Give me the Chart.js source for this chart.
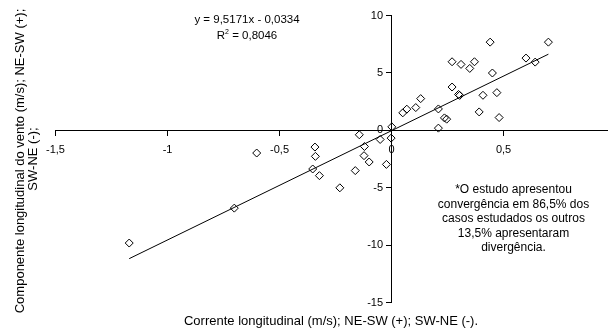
<!DOCTYPE html>
<html>
<head>
<meta charset="utf-8">
<script src="https://cdn.jsdelivr.net/npm/chart.js@4"></script>
<style>
  html, body { margin: 0; padding: 0; background: #fff; }
  #wrap { position: relative; width: 608px; height: 331px; }
</style>
</head>
<body>
<div id="wrap"><canvas id="corrChart"></canvas></div>
<script>
// current (x, m/s) vs wind component (y, m/s)
const currentX = [0.700, 0.440, 0.600, 0.641, 0.270, 0.310, 0.370, 0.349, 0.450, 0.270,
    0.299, 0.304, 0.408, 0.470, 0.391, 0.480, 0.209, 0.236, 0.246, 0.209,
    0.130, 0.108, 0.068, 0.050, 0.001, -0.002, -0.051, -0.144, -0.342, -0.121,
    -0.602, -0.340, -0.352, -0.322, -0.231, -0.162, -0.123, -0.100, -0.023, -0.702,
    -1.171];
const windY = [7.68, 7.68, 6.29, 5.94, 5.97, 5.74, 5.97, 5.39, 4.99, 3.77,
    3.12, 3.04, 3.05, 3.28, 1.60, 1.11, 1.86, 1.08, 0.97, 0.19,
    2.76, 1.98, 1.84, 1.52, 0.30, -0.68, -0.80, -0.39, -1.46, -1.41,
    -1.98, -2.27, -3.37, -3.95, -5.01, -3.51, -2.21, -2.76, -2.97, -6.78,
    -9.82];

// linear trend endpoints (y = 9,5171x - 0,0334)
const trendX = [-1.171, 0.700];
const trendY = [-11.18, 6.63];

const equationLines = ['y = 9,5171x - 0,0334', 'R', ' = 0,8046'];
const noteLines = ['*O estudo apresentou', 'convergência em 86,5% dos', 'casos estudados os outros', '13,5% apresentaram', 'divergência.'];
const xTitle = 'Corrente longitudinal (m/s); NE-SW (+); SW-NE (-).';
const yTitle = ['Componente longitudinal do vento (m/s); NE-SW (+);', 'SW-NE (-);'];

const FONT = "'Liberation Sans', Arial, sans-serif";

const fmt = v => String(Math.round(v * 10) / 10).replace('.', ',');

const textPlugin = {
    id: 'extraText',
    afterDraw(chart) {
        const ctx = chart.ctx;
        const ys = chart.scales.y;
        const xs = chart.scales.x;
        ctx.save();
        ctx.fillStyle = '#000';
        ctx.textBaseline = 'middle';

        // y tick labels, left of the axis
        ctx.font = '11px ' + FONT;
        ctx.textAlign = 'right';
        const axisX = xs.getPixelForValue(0);
        ys.ticks.forEach(t => ctx.fillText(fmt(t.value), axisX - 8.5, ys.getPixelForValue(t.value)));

        // regression equation
        ctx.textAlign = 'center';
        ctx.font = '11.5px ' + FONT;
        ctx.fillText(equationLines[0], 247, 19.5);
        const w1 = ctx.measureText(equationLines[1]).width;
        const w2 = ctx.measureText(equationLines[2]).width;
        ctx.font = '7px ' + FONT;
        const ws = ctx.measureText('2').width;
        const start = 247 - (w1 + ws + w2) / 2;
        ctx.textAlign = 'left';
        ctx.font = '11.5px ' + FONT;
        ctx.fillText(equationLines[1], start, 36);
        ctx.fillText(equationLines[2], start + w1 + ws, 36);
        ctx.font = '7px ' + FONT;
        ctx.fillText('2', start + w1, 32);

        // note
        ctx.font = '12px ' + FONT;
        ctx.textAlign = 'center';
        noteLines.forEach((t, i) => ctx.fillText(t, 513.5, 190 + i * 14.5));

        // axis titles
        ctx.font = '13px ' + FONT;
        ctx.fillText(xTitle, 331, 321.5);
        ctx.translate(20, 161);
        ctx.rotate(-Math.PI / 2);
        ctx.fillText(yTitle[0], 0, 0);
        ctx.fillText(yTitle[1], 2, 13);
        ctx.restore();
    }
};

function noPad(scale) {
    scale.paddingLeft = 0;
    scale.paddingRight = 0;
    scale.paddingTop = 0;
    scale.paddingBottom = 0;
}

new Chart(document.getElementById('corrChart'), {
    type: 'scatter',
    data: {
        datasets: [{
            label: 'dados',
            data: currentX.map((x, i) => ({x: x, y: windY[i]})),
            pointStyle: 'rectRot',
            pointRadius: 4,
            pointBorderWidth: 1,
            borderColor: '#000',
            backgroundColor: 'rgba(0,0,0,0)'
        }, {
            label: 'tendência',
            data: trendX.map((x, i) => ({x: x, y: trendY[i]})),
            showLine: true,
            pointRadius: 0,
            borderColor: '#000',
            borderWidth: 1
        }]
    },
    options: {
        responsive: true,
        maintainAspectRatio: false,
        animation: false,
        layout: { autoPadding: false, padding: { left: 55.5, right: 0, top: 15.5, bottom: 28.5 } },
        plugins: { legend: { display: false }, tooltip: { enabled: false } },
        scales: {
            x: {
                type: 'linear',
                position: { y: 0 },
                min: -1.5,
                max: 0.966,
                afterFit(scale) { scale.height = 0; noPad(scale); },
                border: { color: '#000', width: 1 },
                grid: { drawOnChartArea: false, drawTicks: true, tickLength: 5, color: '#000' },
                ticks: {
                    stepSize: 0.5,
                    includeBounds: false,
                    maxRotation: 0,
                    padding: 8,
                    color: '#000',
                    font: { family: FONT, size: 11 },
                    callback: v => fmt(v)
                }
            },
            y: {
                type: 'linear',
                position: { x: 0 },
                min: -15,
                max: 10,
                afterFit(scale) { scale.width = 0; noPad(scale); },
                border: { color: '#000', width: 1 },
                grid: { drawOnChartArea: false, drawTicks: true, tickLength: 5, color: '#000' },
                ticks: {
                    stepSize: 5,
                    color: 'rgba(0,0,0,0)',
                    font: { family: FONT, size: 11 },
                    callback: v => fmt(v)
                }
            }
        }
    },
    plugins: [textPlugin]
});
</script>
</body>
</html>
